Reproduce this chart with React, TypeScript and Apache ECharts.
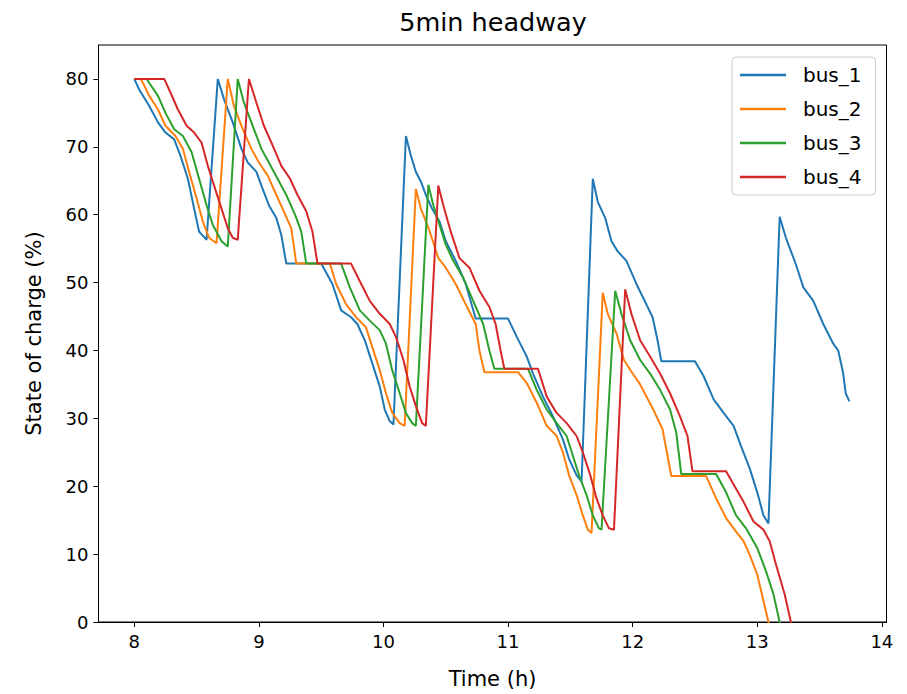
import React, { useEffect, useRef } from "react";
import * as echarts from "echarts";

const seriesNames = ["bus_1", "bus_2", "bus_3", "bus_4"];
const colors = ["#1f77b4", "#ff7f0e", "#2ca02c", "#d62728"];
const xTicks = [8, 9, 10, 11, 12, 13, 14];
const yTicks = [0, 10, 20, 30, 40, 50, 60, 70, 80];

const bus1 = [
  [8.0, 80], [8.04, 78.4], [8.12, 76.0], [8.19, 73.6], [8.25, 72.1], [8.32, 71.1], [8.37, 68.7], [8.43, 65.3], [8.48, 60.9], [8.52, 57.5], [8.58, 56.3],
  [8.67, 80], [8.72, 77.0], [8.79, 73.6], [8.86, 69.7], [8.91, 67.7], [8.98, 66.3], [9.03, 63.8], [9.08, 61.4], [9.14, 59.5], [9.18, 57.0], [9.22, 52.8],
  [9.5, 52.8], [9.59, 49.8], [9.66, 45.9], [9.74, 44.9], [9.79, 43.9], [9.85, 41.5], [9.91, 38.1], [9.97, 34.7], [10.01, 31.3], [10.05, 29.6], [10.08, 29.1],
  [10.18, 71.6], [10.22, 68.7], [10.26, 66.3], [10.3, 64.9], [10.34, 62.9], [10.39, 60.9], [10.45, 59.0], [10.5, 56.1], [10.58, 53.2], [10.66, 49.8], [10.74, 44.7],
  [11.0, 44.7], [11.07, 42.0], [11.15, 39.1], [11.2, 36.6], [11.28, 33.2], [11.36, 30.3], [11.44, 26.9], [11.49, 24.0], [11.55, 21.6], [11.59, 20.7],
  [11.68, 65.3], [11.72, 61.9], [11.78, 59.5], [11.83, 56.1], [11.88, 54.6], [11.95, 53.2], [12.03, 49.8], [12.11, 46.8], [12.16, 44.9], [12.2, 41.5], [12.23, 38.4],
  [12.5, 38.4], [12.57, 36.2], [12.65, 32.8], [12.73, 30.8], [12.81, 28.9], [12.87, 25.9], [12.94, 22.6], [13.0, 19.1], [13.05, 15.7], [13.09, 14.5],
  [13.18, 59.7], [13.23, 56.6], [13.31, 52.7], [13.37, 49.3], [13.45, 47.3], [13.53, 43.9], [13.61, 41.0], [13.65, 40.0], [13.69, 36.6], [13.71, 33.7], [13.74, 32.5],
];

const bus2 = [
  [8.0, 80], [8.05, 80], [8.07, 79.4], [8.12, 77.5], [8.19, 75.5], [8.25, 73.1], [8.33, 71.6], [8.39, 69.7], [8.44, 66.3], [8.5, 62.4], [8.55, 59.0], [8.6, 56.6], [8.66, 55.8],
  [8.75, 80], [8.8, 76.0], [8.87, 72.6], [8.94, 69.7], [9.0, 67.7], [9.07, 65.8], [9.14, 62.9], [9.2, 60.5], [9.26, 58.0], [9.3, 52.8],
  [9.57, 52.8], [9.62, 49.8], [9.7, 46.8], [9.78, 44.9], [9.86, 43.4], [9.91, 40.5], [9.97, 37.1], [10.02, 33.7], [10.07, 30.8], [10.13, 29.3], [10.17, 28.9],
  [10.26, 63.8], [10.3, 60.9], [10.37, 57.6], [10.44, 53.6], [10.5, 52.2], [10.58, 49.8], [10.66, 46.8], [10.74, 43.9], [10.77, 40.0], [10.81, 36.8],
  [11.08, 36.8], [11.15, 35.2], [11.23, 32.3], [11.31, 28.9], [11.39, 27.4], [11.44, 25.0], [11.49, 21.6], [11.55, 18.7], [11.6, 15.7], [11.64, 13.6], [11.67, 13.1],
  [11.76, 48.5], [11.8, 45.4], [11.87, 42.5], [11.93, 38.6], [12.0, 36.6], [12.06, 35.0], [12.16, 31.5], [12.24, 28.4], [12.31, 21.5],
  [12.59, 21.5], [12.67, 18.2], [12.75, 15.3], [12.83, 13.3], [12.89, 11.9], [12.94, 9.9], [13.0, 7.0], [13.05, 3.1], [13.09, 0], [13.12, -2.5],
];

const bus3 = [
  [8.0, 80], [8.1, 80], [8.12, 79.4], [8.19, 77.5], [8.25, 75.0], [8.32, 72.6], [8.39, 71.6], [8.46, 69.2], [8.52, 65.3], [8.58, 61.4], [8.63, 58.5], [8.7, 56.1], [8.75, 55.3],
  [8.83, 80], [8.88, 76.5], [8.95, 73.1], [9.02, 69.7], [9.08, 67.7], [9.15, 65.3], [9.22, 62.9], [9.29, 60.0], [9.34, 57.5], [9.38, 52.8],
  [9.66, 52.8], [9.73, 49.3], [9.81, 45.9], [9.89, 44.4], [9.97, 43.0], [10.02, 41.0], [10.07, 37.1], [10.13, 33.7], [10.18, 30.8], [10.23, 29.3], [10.26, 28.9],
  [10.36, 64.4], [10.4, 61.4], [10.45, 58.5], [10.5, 55.6], [10.56, 53.2], [10.64, 50.7], [10.72, 47.3], [10.8, 43.9], [10.85, 40.0], [10.89, 37.3],
  [11.16, 37.3], [11.23, 34.2], [11.31, 31.3], [11.39, 29.3], [11.47, 27.4], [11.52, 24.5], [11.57, 21.6], [11.63, 18.7], [11.68, 15.7], [11.73, 13.8], [11.75, 13.6],
  [11.86, 48.8], [11.91, 45.4], [11.98, 41.5], [12.06, 38.6], [12.14, 36.6], [12.22, 34.2], [12.3, 31.3], [12.35, 27.9], [12.39, 21.8],
  [12.67, 21.8], [12.75, 19.1], [12.83, 15.7], [12.91, 13.8], [13.0, 10.9], [13.07, 7.5], [13.13, 4.1], [13.18, 0], [13.21, -2.5],
];

const bus4 = [
  [8.0, 80], [8.24, 80], [8.29, 78.0], [8.35, 75.5], [8.42, 73.1], [8.48, 72.1], [8.54, 70.6], [8.59, 67.2], [8.64, 64.3], [8.7, 60.9], [8.75, 58.0], [8.79, 56.6], [8.83, 56.3],
  [8.92, 80], [8.98, 76.5], [9.04, 73.1], [9.11, 70.2], [9.18, 67.2], [9.25, 65.3], [9.31, 62.9], [9.38, 60.5], [9.43, 57.5], [9.47, 52.8],
  [9.74, 52.8], [9.81, 50.2], [9.89, 47.3], [9.97, 45.4], [10.05, 43.9], [10.1, 42.0], [10.16, 38.6], [10.21, 34.7], [10.26, 31.8], [10.31, 29.3], [10.34, 28.9],
  [10.44, 64.3], [10.48, 61.4], [10.54, 57.5], [10.61, 53.6], [10.69, 52.2], [10.77, 48.8], [10.85, 46.4], [10.9, 43.9], [10.94, 40.0], [10.97, 37.3],
  [11.24, 37.3], [11.31, 33.2], [11.39, 30.8], [11.47, 29.3], [11.55, 27.4], [11.6, 25.0], [11.66, 21.6], [11.71, 18.2], [11.76, 15.7], [11.81, 13.8], [11.85, 13.6],
  [11.94, 49.0], [11.99, 45.4], [12.06, 41.5], [12.14, 39.1], [12.22, 36.6], [12.3, 33.7], [12.38, 30.3], [12.44, 27.4], [12.48, 22.2],
  [12.75, 22.2], [12.8, 20.6], [12.89, 17.7], [12.97, 14.8], [13.05, 13.6], [13.1, 11.9], [13.15, 8.5], [13.22, 4.1], [13.27, 0], [13.3, -2.5],
];

const allData = [bus1, bus2, bus3, bus4];
const FONT = "DejaVu Sans";

export default function App() {
  const ref = useRef<HTMLDivElement>(null);
  useEffect(() => {
    if (!ref.current) return;
    const chart = echarts.init(ref.current, null, { renderer: "svg" });
    chart.setOption({
      animation: false,
      backgroundColor: "#ffffff",
      title: {
        text: "5min headway",
        left: 493,
        top: 9,
        padding: 0,
        textAlign: "center",
        textStyle: { fontFamily: FONT, fontSize: 25.5, fontWeight: "normal", color: "#000" },
      },
      grid: {
        left: 98.5,
        top: 45,
        width: 788,
        height: 583,
        show: true,
        borderColor: "#000",
        borderWidth: 1,
        containLabel: false,
      },
      legend: {
        orient: "vertical",
        left: 732,
        top: 57,
        padding: [8, 14, 8, 8],
        itemGap: 14,
        itemWidth: 46,
        itemHeight: 2.5,
        icon: "rect",
        borderColor: "#cccccc",
        borderWidth: 1,
        borderRadius: 4,
        backgroundColor: "rgba(255,255,255,0.8)",
        textStyle: { fontFamily: FONT, fontSize: 20, color: "#000", lineHeight: 20, padding: [0, 0, 0, 12] },
        data: seriesNames,
      },
      xAxis: {
        type: "value",
        min: 7.7125,
        max: 14.0375,
        name: "Time (h)",
        nameLocation: "middle",
        nameGap: 46,
        nameTextStyle: { fontFamily: FONT, fontSize: 21, color: "#000" },
        axisLine: { show: true, lineStyle: { color: "#000", width: 1 } },
        axisTick: { show: true, length: 5, lineStyle: { color: "#000" }, customValues: xTicks },
        axisLabel: { customValues: xTicks, fontFamily: FONT, fontSize: 18, color: "#000", margin: 10 },
        splitLine: { show: false },
      },
      yAxis: {
        type: "value",
        min: 0,
        max: 85,
        name: "State of charge (%)",
        nameLocation: "middle",
        nameGap: 54,
        nameTextStyle: { fontFamily: FONT, fontSize: 21, color: "#000" },
        axisLine: { show: true, lineStyle: { color: "#000", width: 1 } },
        axisTick: { show: true, length: 5, lineStyle: { color: "#000" }, customValues: yTicks },
        axisLabel: { customValues: yTicks, fontFamily: FONT, fontSize: 18, color: "#000", margin: 10 },
        splitLine: { show: false },
      },
      series: allData.map((d, i) => ({
        name: seriesNames[i],
        type: "line",
        data: d,
        symbol: "none",
        showSymbol: false,
        clip: true,
        color: colors[i],
        lineStyle: { color: colors[i], width: 2 },
      })),
    });
    return () => chart.dispose();
  }, []);
  return (
    <div
      ref={ref}
      style={{ position: "fixed", left: 0, top: 0, width: 907, height: 694, background: "#fff" }}
    />
  );
}
